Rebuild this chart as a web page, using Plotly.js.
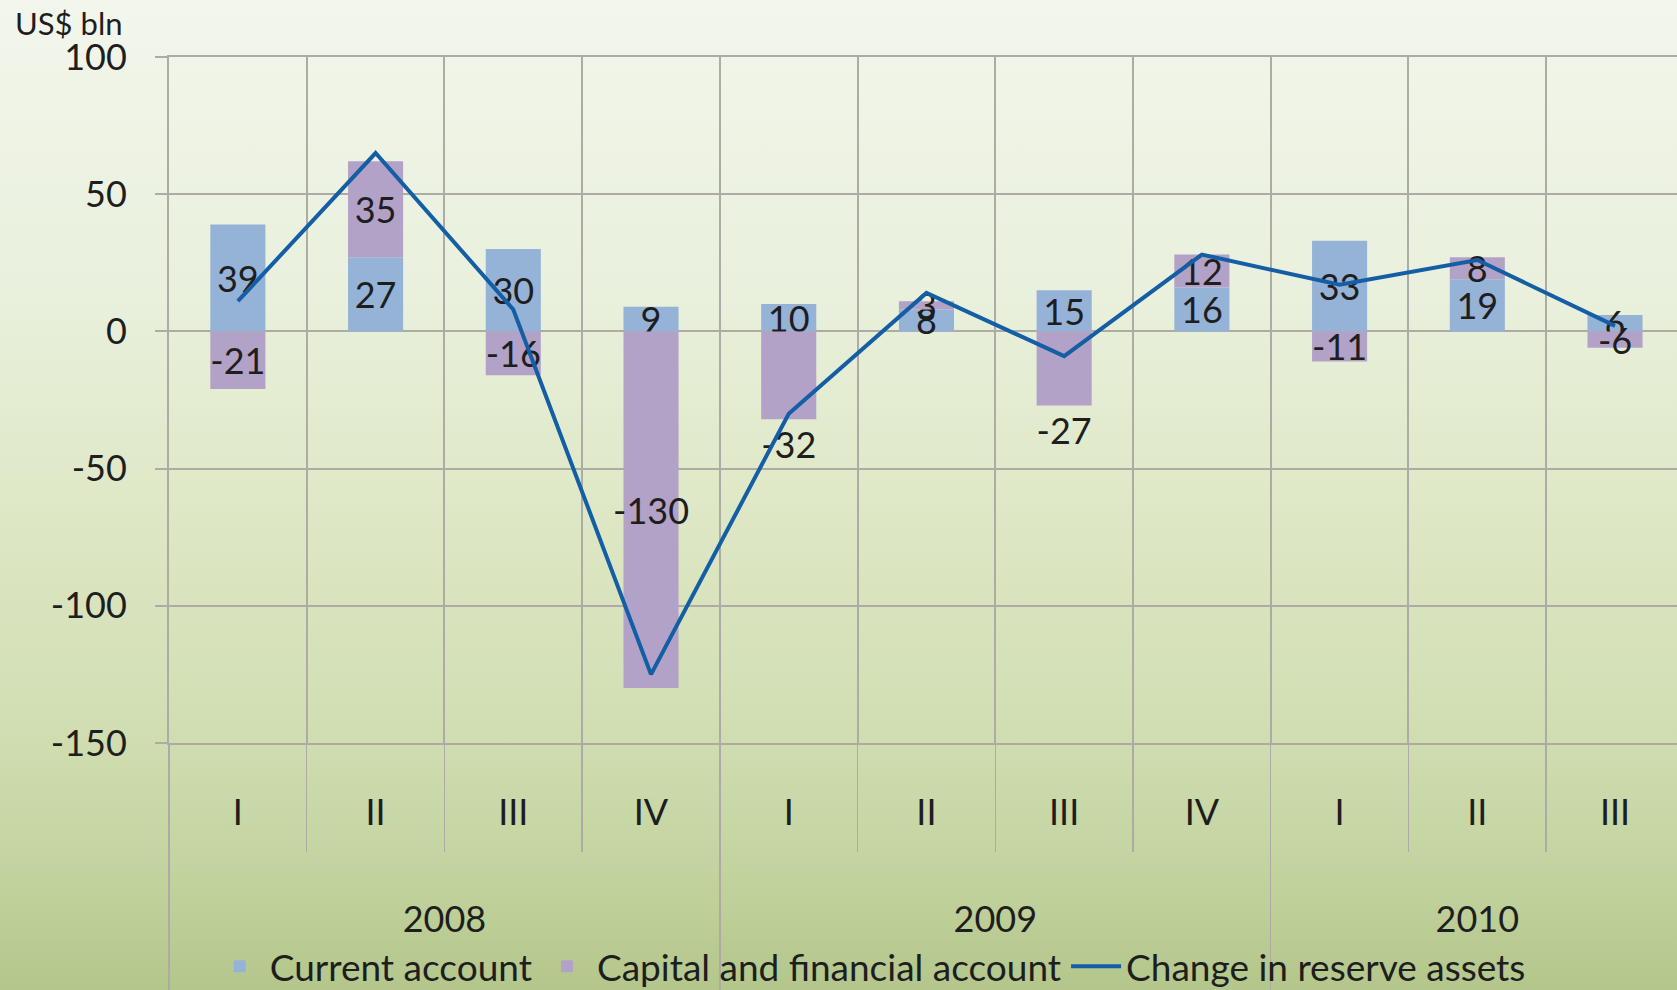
<!DOCTYPE html>
<html>
<head>
<meta charset="utf-8">
<script src="https://cdn.plot.ly/plotly-3.0.1.min.js"></script>
<style>
  html, body { margin: 0; padding: 0; }
  #chart {
    width: 1677px; height: 990px;
    background: linear-gradient(to bottom, #f2f6ec 0%, #e9f0dc 30%, #dfe8c7 50%, #d2dfb4 72%, #c3d39f 88%, #b3c68b 100%);
  }
</style>
</head>
<body>
<div id="chart"></div>
<script>
// ---- data ----
const quarters = ['I', 'II', 'III', 'IV', 'I', 'II', 'III', 'IV', 'I', 'II', 'III'];
const quarterYears = ['2008', '2008', '2008', '2008', '2009', '2009', '2009', '2009', '2010', '2010', '2010'];
const yearLabels = ['2008', '2009', '2010'];
const currentAccount = [39, 27, 30, 9, 10, 8, 15, 16, 33, 19, 6];
const capitalAccount = [-21, 35, -16, -130, -32, 3, -27, 12, -11, 8, -6];
const reserveChange = [11, 65, 8, -125, -30, 14, -9, 28, 17, 26, 2];
const yTicks = [-150, -100, -50, 0, 50, 100];

// ---- derived positions (from the arrays) ----
const xIdx = quarters.map((q, i) => i);
const quarterBounds = xIdx.slice(1).map(i => i - 0.5);
const yearCenters = yearLabels.map(y => {
  const idx = xIdx.filter(i => quarterYears[i] === y);
  return idx.reduce((a, b) => a + b, 0) / idx.length;
});
const yearBounds = yearLabels.map(y => quarterYears.indexOf(y) - 0.5);

// label placement styles (two labels sit outside in the reference)
const capitalLabelPos = capitalAccount.map((v, i) => (i === 4 || i === 6) ? 'outside' : 'inside');

const FONT = 'Lato, "Open Sans", sans-serif';
const TXT = '#1e1e1e';
const GRID = '#acaca4';
const xRange = [-0.5, 10.45];

const labelFont = { family: FONT, size: 36, color: TXT };

const traces = [
  {
    type: 'bar', name: 'Current account',
    x: xIdx, y: currentAccount,
    text: currentAccount.map(String),
    textposition: 'inside', insidetextanchor: 'middle', textangle: 0,
    constraintext: 'none',
    textfont: labelFont, insidetextfont: labelFont, outsidetextfont: labelFont,
    marker: { color: '#95b3d7', line: { width: 0 } },
    width: 0.4, cliponaxis: false, hoverinfo: 'skip'
  },
  {
    type: 'bar', name: 'Capital and financial account',
    x: xIdx, y: capitalAccount,
    text: capitalAccount.map(String),
    textposition: capitalLabelPos, insidetextanchor: 'middle', textangle: 0,
    constraintext: 'none',
    textfont: labelFont, insidetextfont: labelFont, outsidetextfont: labelFont,
    marker: { color: '#b3a2c7', line: { width: 0 } },
    width: 0.4, cliponaxis: false, hoverinfo: 'skip'
  },
  {
    type: 'scatter', mode: 'lines', name: 'Change in reserve assets',
    x: xIdx, y: reserveChange,
    line: { color: '#135ea4', width: 4 },
    hoverinfo: 'skip'
  },
  {
    type: 'scatter', mode: 'markers', x: yearCenters, y: yearCenters.map(() => null),
    xaxis: 'x2', showlegend: false, hoverinfo: 'skip'
  }
];

const layout = {
  width: 1677, height: 990,
  margin: { l: 169, r: 0, t: 57, b: 247, autoexpand: false },
  paper_bgcolor: 'rgba(0,0,0,0)',
  plot_bgcolor: 'rgba(0,0,0,0)',
  barmode: 'relative',
  showlegend: true,
  font: { family: FONT, color: TXT },
  xaxis: {
    range: xRange,
    tickmode: 'array', tickvals: xIdx, ticktext: quarters,
    ticks: '', showgrid: false, zeroline: false,
    showline: true, mirror: true, linecolor: GRID, linewidth: 2,
    tickfont: { family: FONT, size: 36, color: TXT },
    ticklabelstandoff: 37,
    minor: {
      tickmode: 'array', tickvals: quarterBounds,
      ticks: 'outside', ticklen: 107, tickwidth: 1.5, tickcolor: GRID,
      showgrid: true, gridcolor: GRID, gridwidth: 2
    }
  },
  xaxis2: {
    overlaying: 'x', anchor: 'y', side: 'bottom',
    range: xRange,
    tickmode: 'array', tickvals: yearCenters, ticktext: yearLabels,
    ticks: '', showgrid: false, zeroline: false, showline: false,
    tickfont: { family: FONT, size: 36, color: TXT },
    ticklabelstandoff: 152,
    minor: {
      tickmode: 'array', tickvals: yearBounds,
      ticks: 'outside', ticklen: 250, tickwidth: 1.5, tickcolor: GRID,
      showgrid: false
    }
  },
  yaxis: {
    range: [-150, 100],
    tickmode: 'array', tickvals: yTicks, ticktext: yTicks.map(String),
    showgrid: true, gridcolor: GRID, gridwidth: 2,
    zeroline: false,
    showline: true, linecolor: GRID, linewidth: 2,
    ticks: 'outside', ticklen: 12, tickcolor: GRID, tickwidth: 2,
    ticklabelstandoff: 21,
    tickfont: { family: FONT, size: 36, color: TXT }
  },
  legend: {
    orientation: 'h',
    x: 0.465, xanchor: 'center',
    y: -0.326, yanchor: 'middle',
    itemwidth: 50,
    font: { family: FONT, size: 37, color: TXT },
    bgcolor: 'rgba(0,0,0,0)',
    traceorder: 'normal'
  },
  annotations: [
    {
      text: 'US$ bln', xref: 'paper', yref: 'paper',
      x: -0.1035, xanchor: 'left', y: 1.05, yanchor: 'middle',
      showarrow: false, font: { family: FONT, size: 31, color: TXT }
    }
  ]
};

Plotly.newPlot('chart', traces, layout, { displayModeBar: false, staticPlot: true });
</script>
</body>
</html>
